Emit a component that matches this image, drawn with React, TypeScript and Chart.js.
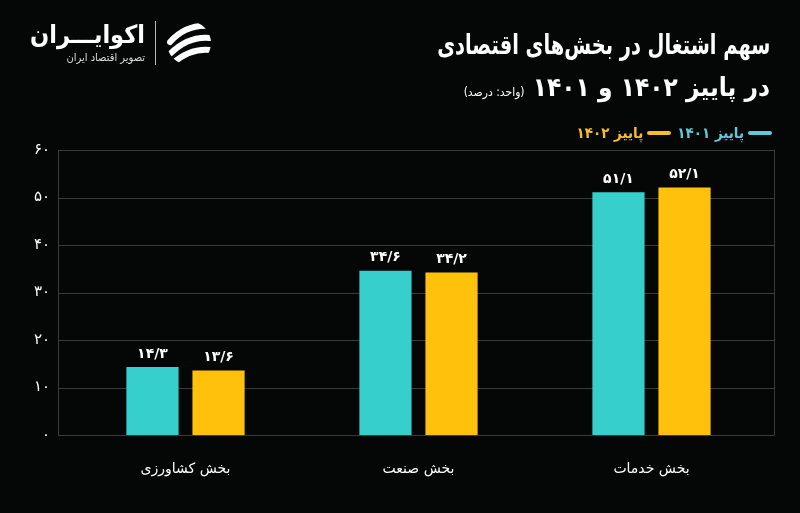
import React, { useEffect, useRef } from "react";
import { Chart, registerables } from "chart.js";

Chart.register(...registerables);

const categories = ["بخش کشاورزی", "بخش صنعت", "بخش خدمات"];
const series1401 = [14.3, 34.6, 51.1];
const series1402 = [13.6, 34.2, 52.1];
const seriesNames = ["پاییز ۱۴۰۱", "پاییز ۱۴۰۲"];
const yTicks = [0, 10, 20, 30, 40, 50, 60];

const TEAL = "#36CFCC";
const YELLOW = "#FFC10C";
const GRID = "#3a3a3a";
const FONT = "'DejaVu Sans', sans-serif";
const TFONT = "'DejaVu Sans Condensed', 'DejaVu Sans', sans-serif";

const fa = (s: string) => s.replace(/\d/g, (d) => "۰۱۲۳۴۵۶۷۸۹"[+d]).replace(".", "/");

const valueLabels = {
  id: "valueLabels",
  afterDatasetsDraw(chart: any) {
    const ctx = chart.ctx;
    ctx.save();
    ctx.fillStyle = "#ffffff";
    ctx.font = `bold 14px ${FONT}`;
    ctx.textAlign = "center";
    ctx.textBaseline = "bottom";
    chart.data.datasets.forEach((ds: any, i: number) => {
      const meta = chart.getDatasetMeta(i);
      meta.data.forEach((bar: any, j: number) => {
        ctx.fillText(fa(ds.data[j].toFixed(1)), bar.x, bar.y - 6);
      });
    });
    ctx.restore();
  },
};

// frame + horizontal grid lines, extended a little beyond the category band
const frame = {
  id: "frame",
  beforeDatasetsDraw(chart: any) {
    const { ctx, chartArea, scales } = chart;
    const left = chartArea.left - 11;
    const right = chartArea.right + 6;
    ctx.save();
    ctx.strokeStyle = GRID;
    ctx.lineWidth = 1;
    ctx.beginPath();
    yTicks.forEach((v) => {
      const y = Math.round(scales.y.getPixelForValue(v)) + 0.5;
      ctx.moveTo(left, y);
      ctx.lineTo(right, y);
    });
    ctx.moveTo(left + 0.5, chartArea.top);
    ctx.lineTo(left + 0.5, chartArea.bottom + 0.5);
    ctx.moveTo(right + 0.5, chartArea.top);
    ctx.lineTo(right + 0.5, chartArea.bottom + 0.5);
    ctx.stroke();
    ctx.restore();
  },
};

function ChartCanvas() {
  const ref = useRef<HTMLCanvasElement>(null);
  useEffect(() => {
    const chart = new Chart(ref.current!, {
      type: "bar",
      data: {
        labels: categories,
        datasets: [
          { label: seriesNames[0], data: series1401, backgroundColor: TEAL },
          { label: seriesNames[1], data: series1402, backgroundColor: YELLOW },
        ],
      },
      options: {
        animation: false,
        responsive: false,
        maintainAspectRatio: false,
        layout: { padding: { top: 150, right: 32, bottom: 0, left: 0 } },
        datasets: { bar: { categoryPercentage: 0.567, barPercentage: 0.79 } },
        plugins: { legend: { display: false }, tooltip: { enabled: false }, title: { display: false } },
        scales: {
          x: {
            grid: { display: false },
            border: { display: false },
            ticks: { color: "#ffffff", font: { family: FONT, size: 14 }, padding: 18 },
            afterFit: (s: any) => { s.height = 78; },
          },
          y: {
            min: 0,
            max: 60,
            afterBuildTicks: (s: any) => { s.ticks = yTicks.map((v) => ({ value: v })); },
            grid: { display: false, drawTicks: false },
            border: { display: false },
            ticks: {
              color: "#ffffff",
              font: { family: FONT, size: 15 },
              padding: 19,
              callback: (v: any) => fa(String(v)),
            },
            afterFit: (s: any) => { s.width = 69; },
          },
        },
      },
      plugins: [frame, valueLabels],
    } as any);
    return () => chart.destroy();
  }, []);
  return <canvas ref={ref} width={800} height={513} style={{ position: "absolute", left: 0, top: 0 }} />;
}

function Logo() {
  return (
    <div style={{ position: "absolute", left: 30, top: 20, display: "flex", alignItems: "center", direction: "ltr" }}>
      <div style={{ textAlign: "right", direction: "rtl", color: "#fff", fontFamily: TFONT }}>
        <div style={{ fontSize: 25, fontWeight: "bold", lineHeight: "30px" }}>اکوایـــران</div>
        <div style={{ fontSize: 11, color: "#ddd", lineHeight: "16px" }}>تصویر اقتصاد ایران</div>
      </div>
      <div style={{ width: 1, height: 44, background: "#bbb", margin: "0 10px" }} />
      <svg width="46" height="46" viewBox="0 0 46 46">
        <defs>
          <clipPath id="c"><circle cx="23" cy="23" r="22" /></clipPath>
        </defs>
        <g clipPath="url(#c)" fill="none" stroke="#fff" strokeWidth="6" strokeLinecap="round">
          <path d="M4 22 Q20 4 44 6" />
          <path d="M4 34 Q22 16 44 18" />
          <path d="M6 44 Q24 28 44 30" />
        </g>
      </svg>
    </div>
  );
}

function Header() {
  return (
    <div style={{ position: "absolute", right: 30, top: 24, direction: "rtl", color: "#fff", fontFamily: TFONT, textAlign: "right" }}>
      <div style={{ fontSize: 27, fontWeight: "bold", lineHeight: "42px", transform: "scaleX(0.8)", transformOrigin: "right center" }}>
        سهم اشتغال در بخش‌های اقتصادی
      </div>
      <div style={{ fontSize: 26, fontWeight: "bold", lineHeight: "42px" }}>
        در پاییز ۱۴۰۲ و ۱۴۰۱ <span style={{ fontSize: 12, fontWeight: "normal" }}>(واحد: درصد)</span>
      </div>
    </div>
  );
}

function Legend() {
  const item = (name: string, color: string) => (
    <div style={{ display: "flex", alignItems: "center", marginLeft: 6 }}>
      <div style={{ width: 24, height: 4, borderRadius: 2, background: color, marginLeft: 4 }} />
      <span style={{ color, fontSize: 15, fontWeight: "bold", fontFamily: TFONT }}>{name}</span>
    </div>
  );
  return (
    <div style={{ position: "absolute", right: 28, top: 124, direction: "rtl", display: "flex" }}>
      {item(seriesNames[0], "#62C9D6")}
      {item(seriesNames[1], "#F5C024")}
    </div>
  );
}

export default function App() {
  return (
    <div style={{ position: "fixed", left: 0, top: 0, width: 800, height: 513, background: "#050606", overflow: "hidden" }}>
      <ChartCanvas />
      <Logo />
      <Header />
      <Legend />
    </div>
  );
}
